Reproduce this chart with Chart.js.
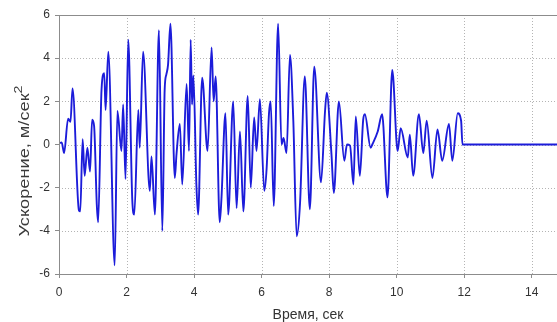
<!DOCTYPE html>
<html>
<head>
<meta charset="utf-8">
<script src="https://cdn.jsdelivr.net/npm/chart.js@4.4.0/dist/chart.umd.min.js"></script>
<style>
  html, body { margin: 0; padding: 0; background: #fff; }
</style>
</head>
<body>
<canvas id="chart" width="557" height="322"></canvas>
<script>
// time, s
const times = [0, 0.08, 0.15, 0.27, 0.34, 0.40, 0.59, 0.63, 0.70, 0.76, 0.84, 0.92, 0.98, 1.04, 1.12, 1.16,
    1.26, 1.34, 1.38, 1.46, 1.65, 1.73, 1.85, 1.90, 1.97, 2.05, 2.17, 2.23, 2.35, 2.39, 2.49, 2.69, 2.74, 2.84,
    2.96, 3.06, 3.13, 3.18, 3.23, 3.30, 3.43, 3.48, 3.58, 3.65, 3.78, 3.85, 3.90, 3.94, 3.98, 4.07, 4.12, 4.24,
    4.40, 4.52, 4.58, 4.64, 4.76, 4.81, 4.93, 5.01, 5.16, 5.26, 5.36, 5.46, 5.59, 5.68, 5.78, 5.85, 5.95, 6.08,
    6.15, 6.22, 6.27, 6.36, 6.49, 6.59, 6.65, 6.74, 6.84, 6.94, 7.04, 7.14, 7.28, 7.43, 7.56, 7.76, 7.88, 7.93,
    8.07, 8.14, 8.29, 8.45, 8.53, 8.62, 8.72, 8.79, 8.91, 9.01, 9.06, 9.23, 9.28, 9.44, 9.57, 9.73, 9.87, 10.03, 10.12,
    10.33, 10.39, 10.49, 10.66, 10.79, 10.89, 11.06, 11.21, 11.35, 11.55, 11.65, 11.81, 11.91, 11.95, 15];
// acceleration, m/s^2
const accel = [0.05, 0.1, -0.4, 1.2, 1.05, 2.6, -3.05, -3.1, 0.25, -1.45, -0.15, -1.25, 1.15, 0.85, -2.8, -3.6,
    2.55, 3.3, 1.6, 4.3, -5.6, 1.55, -0.3, 1.85, -1.6, 4.85, -2.55, -3.25, 1.6, -0.15, 4.3, -2.15, -0.55, -3.25,
    5.3, -4.0, 2.55, 3.25, 3.7, 5.6, -1.55, -0.45, 0.95, -1.85, 2.8, -0.3, 4.85, 1.85, 3.2, -1.9, -3.25, 3.1,
    -0.3, 4.5, 2.0, 3.15, -3.6, -2.55, 1.45, -3.25, 2.0, -2.95, 0.6, -3.1, 2.25, -2.0, 1.25, -0.3, 2.1, -2.15,
    -1.1, 1.45, 2.0, -2.85, 5.6, 0, 0.3, -0.4, 4.15, 1.1, -4.25, -2.7, 3.15, -3.0, 3.6, -1.75, 1.55, 2.4,
    -0.45, -2.25, 2.0, -0.75, 0, -0.05, -1.85, 1.3, -1.45, 1.15, 1.4, -0.15, 0, 0.6, 1.4, -2.45, 3.45, -0.3, 0.75,
    -0.6, 0.45, -1.45, 1.4, -0.4, 1.1, -1.55, 0.7, -0.75, 0.95, -0.75, 1.45, 1.1, 0, 0];

const xTicks = [0, 2, 4, 6, 8, 10, 12, 14];
const yTicks = [-6, -4, -2, 0, 2, 4, 6];

const points = times.map((t, i) => ({ x: t, y: accel[i] }));
const FONT = '"Liberation Sans", Arial, sans-serif';

// dotted grid inside the plot area
const dottedGrid = {
    id: 'dottedGrid',
    beforeDatasetsDraw(chart) {
        const { ctx, chartArea, scales } = chart;
        ctx.save();
        ctx.strokeStyle = '#b4b4b4';
        ctx.lineWidth = 1;
        ctx.setLineDash([1, 2]);
        xTicks.forEach(v => {
            if (v === 0) return;
            const px = Math.round(scales.x.getPixelForValue(v)) + 0.5;
            ctx.beginPath(); ctx.moveTo(px, chartArea.top); ctx.lineTo(px, chartArea.bottom); ctx.stroke();
        });
        yTicks.forEach(v => {
            if (v === -6 || v === 6) return;
            const py = Math.round(scales.y.getPixelForValue(v)) + 0.5;
            ctx.beginPath(); ctx.moveTo(chartArea.left, py); ctx.lineTo(chartArea.right, py); ctx.stroke();
        });
        ctx.restore();
    }
};

// frame around the plot area and the y title with a real superscript
const framePlugin = {
    id: 'frame',
    afterDraw(chart) {
        const { ctx, chartArea } = chart;
        ctx.save();
        ctx.strokeStyle = '#8c8c8c';
        ctx.lineWidth = 1;
        ctx.strokeRect(chartArea.left + 0.5, chartArea.top + 0.5,
            chartArea.right - chartArea.left, chartArea.bottom - chartArea.top);

        const main = 'Ускорение, м/сек';
        ctx.translate(25, 161);
        ctx.rotate(-Math.PI / 2);
        ctx.scale(1.3, 1);
        ctx.fillStyle = '#3a3a3a';
        ctx.font = '14px ' + FONT;
        const w = ctx.measureText(main).width;
        ctx.font = '11px ' + FONT;
        const w2 = ctx.measureText('2').width;
        const start = -(w + w2) / 2;
        ctx.textBaseline = 'middle';
        ctx.textAlign = 'left';
        ctx.font = '14px ' + FONT;
        ctx.fillText(main, start, 0);
        ctx.font = '11px ' + FONT;
        ctx.fillText('2', start + w, -6);
        ctx.restore();
    }
};

new Chart(document.getElementById('chart'), {
    type: 'line',
    data: {
        datasets: [{
            data: points,
            borderColor: 'rgb(28,28,218)',
            borderWidth: 1.9,
            pointRadius: 0,
            cubicInterpolationMode: 'monotone',
            fill: false
        }]
    },
    options: {
        responsive: false,
        animation: false,
        layout: { padding: { top: 15, right: 0, left: 0, bottom: 0 } },
        plugins: { legend: { display: false }, tooltip: { enabled: false } },
        scales: {
            x: {
                type: 'linear',
                min: 0,
                max: 14.75,
                afterBuildTicks: axis => { axis.ticks = xTicks.map(v => ({ value: v })); },
                afterFit: axis => { axis.height = 48; },
                border: { color: '#8c8c8c' },
                grid: { drawOnChartArea: false, tickColor: '#8c8c8c', tickLength: 4 },
                ticks: { color: '#333', padding: 7, maxRotation: 0, font: { size: 12, family: FONT } },
                title: {
                    display: true,
                    text: 'Время, сек',
                    color: '#333',
                    padding: { top: 6, bottom: -2 },
                    font: { size: 14, family: FONT }
                }
            },
            y: {
                min: -6,
                max: 6,
                afterBuildTicks: axis => { axis.ticks = yTicks.map(v => ({ value: v })); },
                afterFit: axis => { axis.width = 59; },
                border: { color: '#8c8c8c' },
                grid: { drawOnChartArea: false, tickColor: '#8c8c8c', tickLength: 4 },
                ticks: { color: '#333', padding: 5, font: { size: 12, family: FONT } }
            }
        }
    },
    plugins: [dottedGrid, framePlugin]
});
</script>
</body>
</html>
